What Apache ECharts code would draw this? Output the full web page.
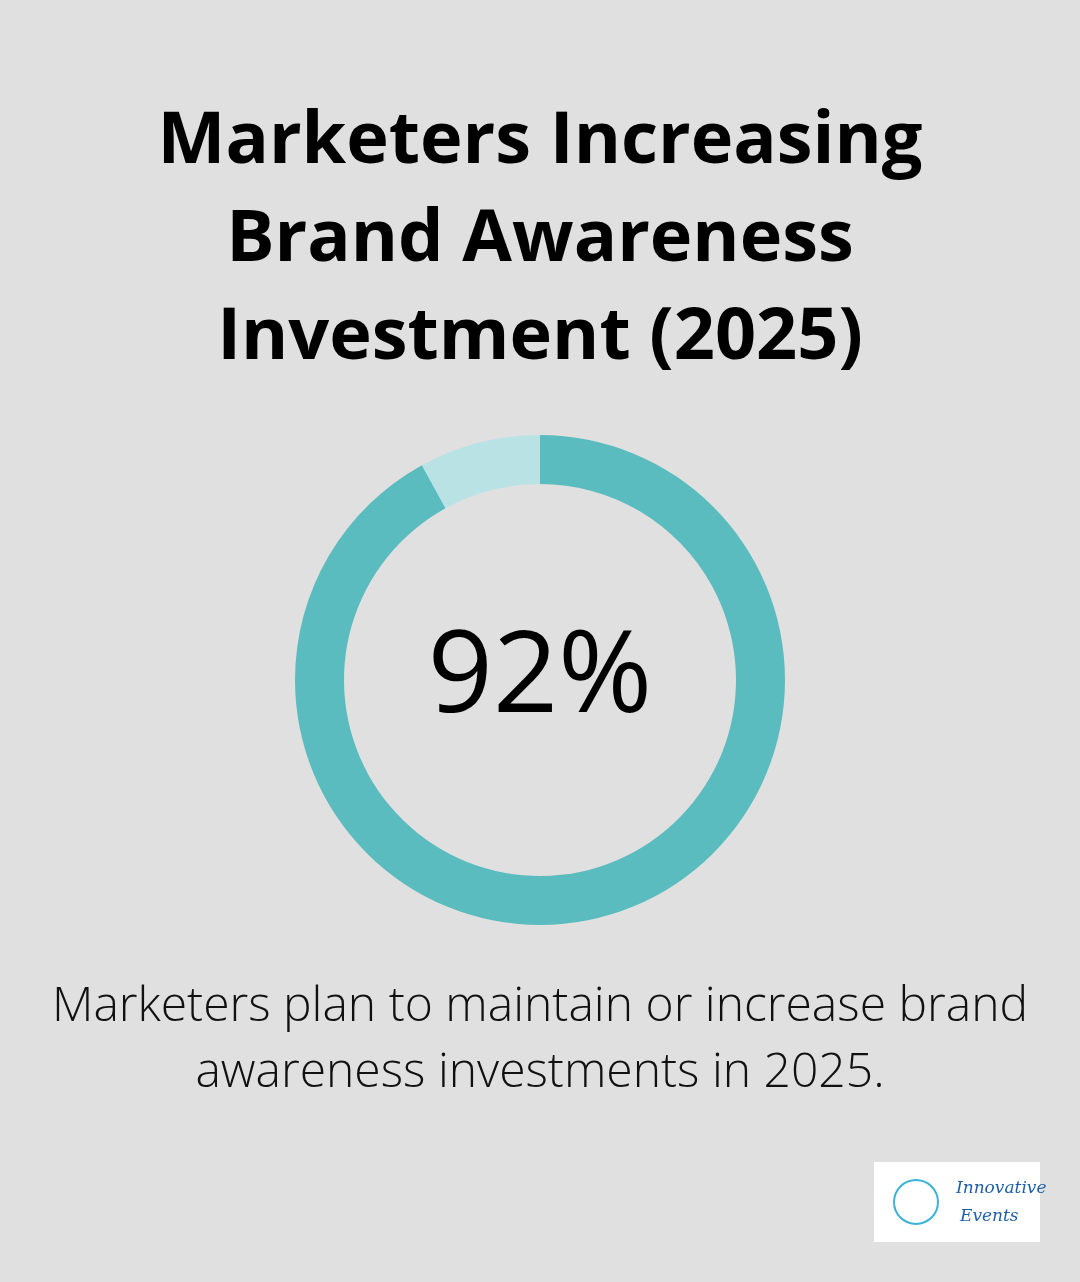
<!DOCTYPE html>
<html>
<head>
<meta charset="utf-8">
<script src="https://cdn.jsdelivr.net/npm/echarts@6/dist/echarts.min.js"></script>
<style>
html,body{margin:0;padding:0;background:#dfe0df;}
#main{width:1080px;height:1282px;}
</style>
</head>
<body>
<div id="main"></div>
<script>
var titleLines = ['Marketers Increasing', 'Brand Awareness', 'Investment (2025)'];
var sliceNames = ['Maintain or increase', 'Other'];
var sliceValues = [92, 8];
var sliceColors = ['#5bbcc0', '#b9e2e5'];
var centerLabel = '92%';
var noteLines = ['Marketers plan to maintain or increase brand', 'awareness investments in 2025.'];

var myChart = echarts.init(document.getElementById('main'));
var option = {
	backgroundColor: '#dfe0df',
	title: {
		text: titleLines.join('\n'),
		left: 'center',
		top: 88,
		textStyle: {
			fontFamily: 'Open Sans',
			fontWeight: 'bold',
			fontSize: 72,
			lineHeight: 98,
			color: '#000'
		}
	},
	graphic: [
		{
			type: 'text',
			left: 'center',
			top: 974,
			style: {
				text: noteLines.join('\n'),
				font: '300 48px "Open Sans"',
				lineHeight: 66,
				textAlign: 'center',
				fill: '#111'
			}
		},
		{
			type: 'group',
			left: 874,
			top: 1162,
			children: [
				{ type: 'rect', shape: { x: 0, y: 0, width: 166, height: 80 }, style: { fill: '#fff' } },
				{ type: 'text', style: { x: 82, y: 18, text: 'Innovative', font: 'italic 17px "DejaVu Serif"', fill: '#1f5fa8' } },
				{ type: 'text', style: { x: 86, y: 46, text: 'Events', font: 'italic 17px "DejaVu Serif"', fill: '#1f5fa8' } },
				{ type: 'circle', shape: { cx: 42, cy: 40, r: 22 }, style: { fill: 'none', stroke: '#3bb3d8', lineWidth: 2 } }
			]
		}
	],
	series: [
		{
			type: 'pie',
			center: [540, 680],
			radius: [196, 245],
			startAngle: 90,
			silent: true,
			label: {
				show: true,
				position: 'center',
				formatter: function () { return centerLabel; },
				fontFamily: 'Open Sans',
				fontWeight: 500,
				fontSize: 114,
				color: '#000'
			},
			labelLine: { show: false },
			data: sliceNames.map(function (n, i) {
				return {
					name: n,
					value: sliceValues[i],
					itemStyle: { color: sliceColors[i] },
					label: { show: i === 0 }
				};
			})
		}
	]
};
myChart.setOption(option);
</script>
</body>
</html>
